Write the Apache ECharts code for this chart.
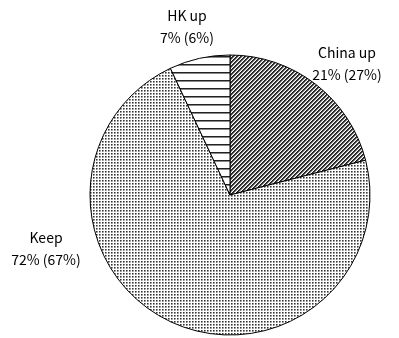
<!DOCTYPE html>
<html>
<head>
<meta charset="utf-8">
<script src="https://cdn.jsdelivr.net/npm/echarts@6/dist/echarts.min.js"></script>
<style>
html,body{margin:0;padding:0;background:#fff;}
#chart{width:399px;height:338px;}
</style>
</head>
<body>
<div id="chart"></div>
<script>
const categories = ['China up', 'Keep', 'HK up'];
const shares = [21, 72, 7];
const previous = [27, 67, 6];

function makeTile(w, h, fn) {
  const c = document.createElement('canvas');
  c.width = w; c.height = h;
  const ctx = c.getContext('2d');
  ctx.fillStyle = '#fff';
  ctx.fillRect(0, 0, w, h);
  fn(ctx, w, h);
  return c;
}
// diagonal stripes "/"
const diag = makeTile(4, 4, (ctx, w, h) => {
  const img = ctx.getImageData(0, 0, w, h);
  for (let y = 0; y < h; y++) for (let x = 0; x < w; x++) {
    const k = (x + y) % 4;
    let v = 255;
    if (k === 0) v = 30; else if (k === 1) v = 60; else if (k === 2) v = 170;
    const i = (y * w + x) * 4;
    img.data[i] = img.data[i + 1] = img.data[i + 2] = v;
    img.data[i + 3] = 255;
  }
  ctx.putImageData(img, 0, 0);
});
// dots
const dots = makeTile(3, 3, (ctx) => {
  ctx.fillStyle = '#333';
  ctx.fillRect(0, 0, 1, 1);
  ctx.fillStyle = '#888';
  ctx.fillRect(1, 0, 1, 1);
  ctx.fillRect(0, 1, 1, 1);
  ctx.fillStyle = '#bbb';
  ctx.fillRect(1, 1, 1, 1);
});
// horizontal lines
const hlines = makeTile(8, 8, (ctx) => {
  ctx.fillStyle = '#222';
  ctx.fillRect(0, 0, 8, 1);
  ctx.fillStyle = '#888';
  ctx.fillRect(0, 1, 8, 1);
});
const patterns = [diag, dots, hlines];
const labelPos = [[347, 64], [46, 249], [187, 27]];

const chart = echarts.init(document.getElementById('chart'), null, {renderer: 'canvas'});
chart.setOption({
  animation: false,
  backgroundColor: '#fff',
  series: [{
    type: 'pie',
    center: [230, 195],
    radius: [0, 140],
    startAngle: 90,
    clockwise: true,
    silent: true,
    data: categories.map((n, i) => ({
      name: n,
      value: shares[i],
      itemStyle: {color: {image: patterns[i], repeat: 'repeat'}}
    })),
    itemStyle: {borderColor: '#000', borderWidth: 1},
    label: {
      show: true,
      position: 'outside',
      color: '#000',
      fontSize: 14,
      lineHeight: 22,
      fontFamily: 'Noto Sans CJK JP',
      align: 'center',
      overflow: 'none',
      width: 100,
      formatter: p => p.name + '\n' + shares[p.dataIndex] + '% (' + previous[p.dataIndex] + '%)'
    },
    labelLine: {show: false},
    labelLayout: p => ({x: labelPos[p.dataIndex][0], y: labelPos[p.dataIndex][1], align: 'center', verticalAlign: 'middle'})
  }]
});
</script>
</body>
</html>
